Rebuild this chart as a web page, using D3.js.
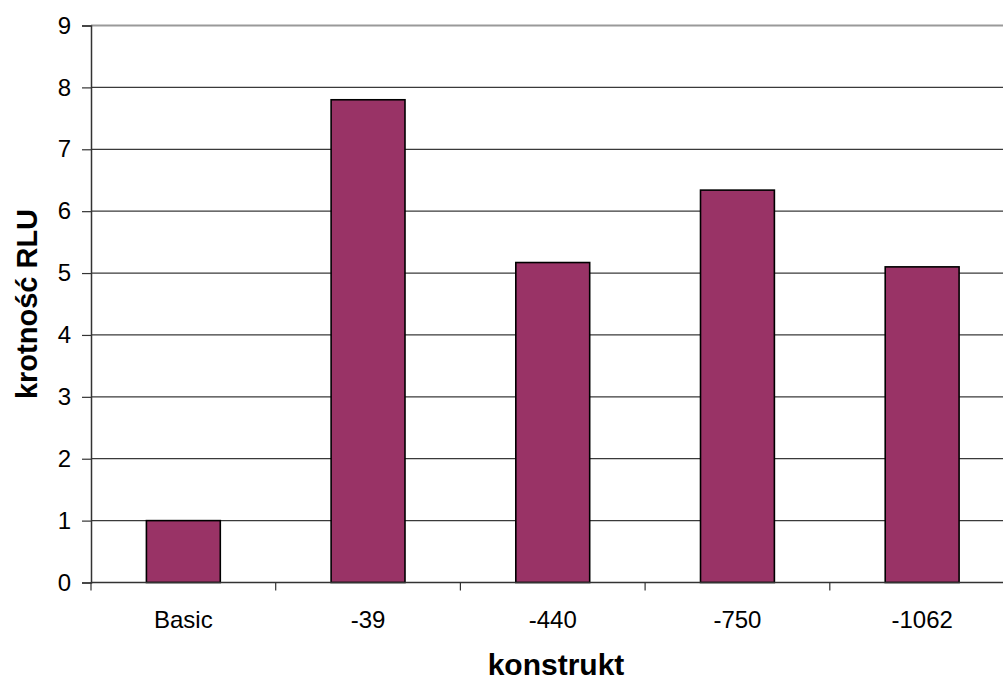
<!DOCTYPE html>
<html>
<head>
<meta charset="utf-8">
<script src="https://cdn.jsdelivr.net/npm/d3@7"></script>
<style>
  html, body { margin: 0; padding: 0; background: #fff; }
  svg { display: block; }
  text { font-family: "Liberation Sans", Arial, sans-serif; fill: #000; }
</style>
</head>
<body>
<svg id="chart" width="1003" height="684"></svg>
<script>
// Construct names and fold change of RLU
const categories = ["Basic", "-39", "-440", "-750", "-1062"];
const values = [1.0, 7.8, 5.17, 6.34, 5.1];
const yTicks = [0, 1, 2, 3, 4, 5, 6, 7, 8, 9];

(function () {
  const svg = d3.select("#chart");
  const plotLeft = 91, plotTop = 25.5, plotBottom = 582.5;
  const step = 184.7;
  const plotRight = plotLeft + step * categories.length;

  const x = d3.scaleBand()
    .domain(categories)
    .range([plotLeft, plotRight])
    .paddingInner(0.6)
    .paddingOuter(0.3);

  const y = d3.scaleLinear().domain([0, 9]).range([plotBottom, plotTop]);

  // Horizontal gridlines
  svg.append("g")
    .selectAll("line")
    .data(yTicks.filter(d => d > 0))
    .join("line")
    .attr("x1", plotLeft).attr("x2", plotRight)
    .attr("y1", d => y(d)).attr("y2", d => y(d))
    .attr("stroke", d => d === 9 ? "#9a9a9a" : "#3a3a3a")
    .attr("stroke-width", d => d === 9 ? 2 : 1.2);

  // Y axis
  const yAxis = svg.append("g")
    .attr("transform", `translate(${plotLeft},0)`)
    .call(d3.axisLeft(y).tickValues(yTicks).tickSize(9).tickPadding(11).tickFormat(d3.format("d")));
  yAxis.select(".domain").attr("stroke", "#333").attr("stroke-width", 1.5);
  yAxis.selectAll(".tick line").attr("stroke", "#333").attr("stroke-width", 1.2);
  yAxis.selectAll(".tick text")
    .style("font-family", "'Liberation Sans', Arial, sans-serif")
    .style("font-size", "24px").attr("fill", "#000");

  // Bars
  svg.append("g")
    .selectAll("rect")
    .data(categories.map((c, i) => ({ c, v: values[i] })))
    .join("rect")
    .attr("x", d => x(d.c))
    .attr("width", x.bandwidth())
    .attr("y", d => y(d.v))
    .attr("height", d => y(0) - y(d.v))
    .attr("fill", "#993366")
    .attr("stroke", "#000")
    .attr("stroke-width", 1.6);

  // X axis: baseline with ticks at category boundaries
  const xg = svg.append("g");
  xg.append("line")
    .attr("x1", plotLeft).attr("x2", plotRight)
    .attr("y1", y(0)).attr("y2", y(0))
    .attr("stroke", "#333").attr("stroke-width", 1.5);
  xg.selectAll("line.tick")
    .data(d3.range(categories.length + 1))
    .join("line")
    .attr("class", "tick")
    .attr("x1", i => x.range()[0] + i * x.step())
    .attr("x2", i => x.range()[0] + i * x.step())
    .attr("y1", y(0)).attr("y2", y(0) + 8)
    .attr("stroke", "#333").attr("stroke-width", 1.2);
  xg.selectAll("text")
    .data(categories)
    .join("text")
    .attr("x", d => x(d) + x.bandwidth() / 2)
    .attr("y", y(0) + 45.5)
    .attr("text-anchor", "middle")
    .style("font-size", "24px")
    .text(d => d);

  // Axis titles
  svg.append("text")
    .attr("x", 556)
    .attr("y", 675)
    .attr("text-anchor", "middle")
    .style("font-size", "30px")
    .style("font-weight", "bold")
    .text("konstrukt");

  svg.append("text")
    .attr("transform", "translate(37, 304) rotate(-90)")
    .attr("text-anchor", "middle")
    .style("font-size", "29px")
    .style("font-weight", "bold")
    .text("krotność RLU");
})();
</script>
</body>
</html>
